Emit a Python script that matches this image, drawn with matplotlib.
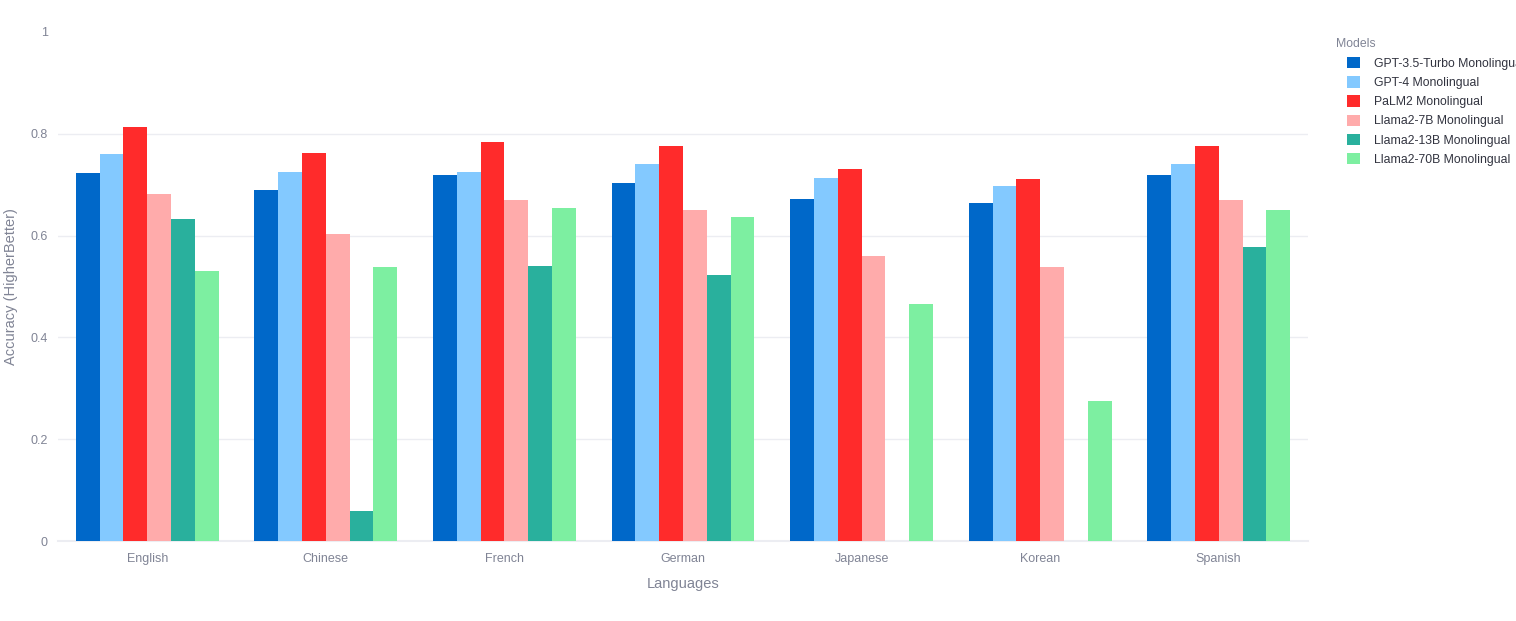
import matplotlib
matplotlib.use("Agg")
import matplotlib.pyplot as plt
import numpy as np
from matplotlib.ticker import FuncFormatter

plt.rcParams['font.family'] = ['Liberation Sans', 'DejaVu Sans']

languages = ["English", "Chinese", "French", "German", "Japanese", "Korean", "Spanish"]
models = ["GPT-3.5-Turbo Monolingual", "GPT-4 Monolingual", "PaLM2 Monolingual",
          "Llama2-7B Monolingual", "Llama2-13B Monolingual", "Llama2-70B Monolingual"]

gpt35 = [0.723, 0.690, 0.720, 0.704, 0.671, 0.664, 0.719]
gpt4 = [0.761, 0.725, 0.725, 0.740, 0.714, 0.698, 0.741]
palm2 = [0.814, 0.763, 0.784, 0.777, 0.731, 0.711, 0.777]
llama7b = [0.682, 0.604, 0.669, 0.650, 0.559, 0.538, 0.669]
llama13b = [0.632, 0.059, 0.540, 0.522, None, None, 0.577]
llama70b = [0.531, 0.539, 0.655, 0.637, 0.465, 0.276, 0.650]

series = [gpt35, gpt4, palm2, llama7b, llama13b, llama70b]
colors = ["#0068C9", "#83C9FF", "#FF2B2B", "#FFABAB", "#29B09D", "#7DEFA1"]

W, H = 1516, 621
fig = plt.figure(figsize=(W / 100, H / 100), dpi=100)
ax = fig.add_axes([58 / W, (H - 541) / H, (1308 - 58) / W, (541 - 32) / H])

n = len(series)
group_w = 0.8
bw = group_w / n
x = np.arange(len(languages))
handles = []
for i, (vals, c, name) in enumerate(zip(series, colors, models)):
    v = np.array([np.nan if a is None else a for a in vals], dtype=float)
    pos = x - group_w / 2 + bw * (i + 0.5)
    h = ax.bar(pos, v, width=bw, color=c, label=name, zorder=3, linewidth=0)
    handles.append(h)

ax.set_xlim(-0.5, len(languages) - 0.5)
ax.set_ylim(0, 1.0)
ax.set_yticks([0, 0.2, 0.4, 0.6, 0.8, 1.0])

def fmt(v, p):
    if abs(v) < 1e-9:
        return "0"
    if abs(v - 1) < 1e-9:
        return "1"
    return f"{v:.1f}"

ax.yaxis.set_major_formatter(FuncFormatter(fmt))
ax.set_xticks(x)
ax.set_xticklabels(languages)

tick_color = "#808495"
ax.tick_params(axis='both', length=0, labelsize=9, colors=tick_color)
ax.tick_params(axis='y', pad=7.5)
ax.tick_params(axis='x', pad=8.5)

for yv in [0.2, 0.4, 0.6, 0.8]:
    ax.axhline(yv, color="#ECEDF2", lw=1, zorder=1)
for s in ["top", "right", "left"]:
    ax.spines[s].set_visible(False)
ax.spines["bottom"].set_color("#ECEDF2")
ax.spines["bottom"].set_linewidth(1.5)

ax.set_xlabel("Languages", fontsize=10.5, color=tick_color, labelpad=9)
ax.set_ylabel("Accuracy (HigherBetter)", fontsize=10.5, color=tick_color)
ax.yaxis.set_label_coords(-40 / 1250, 0.5)

fig.text(1336 / W, 1 - 44 / H, "Models", fontsize=8.8, color=tick_color, va="center", ha="left")
leg = fig.legend(handles=handles, labels=models, loc="upper left",
                 bbox_to_anchor=(1347 / W, 1 - 57 / H), frameon=False,
                 fontsize=8.8, handlelength=1.05, handleheight=1.05,
                 handletextpad=1.15, labelspacing=0.52, borderpad=0, borderaxespad=0)
for t in leg.get_texts():
    t.set_color("#31333F")

fig.savefig("out.png", dpi=100)
